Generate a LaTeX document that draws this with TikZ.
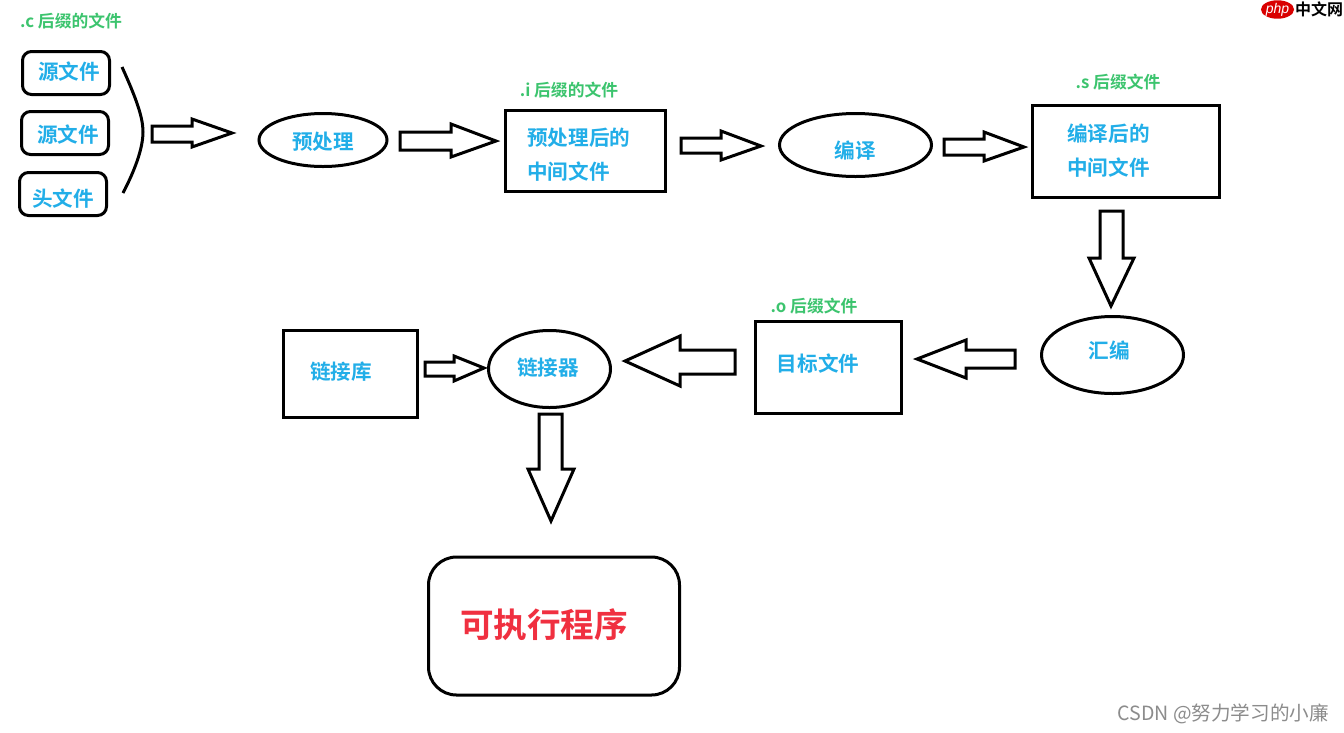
\documentclass[tikz,border=0pt]{standalone}
\usepackage{fontspec}
\setmainfont{Noto Sans CJK SC}
\newfontfamily\cjkbold{Noto Sans CJK SC Bold}
\newfontfamily\latinit{Liberation Sans Italic}
\usetikzlibrary{shapes.geometric}
\definecolor{blu}{HTML}{22AEE8}
\definecolor{grn}{HTML}{3CC46E}
\definecolor{rd}{HTML}{F03040}
\tikzset{
 shp/.style={draw=black,line width=3pt,inner sep=0pt},
 rbox/.style={shp,rectangle,rounded corners=9pt},
 sbox/.style={shp,rectangle},
 oval/.style={shp,ellipse},
 lab/.style={text=blu,font=\cjkbold\fontsize{20.6}{24}\selectfont,inner sep=0pt,anchor=center,yshift=-1pt},
 tag/.style={text=grn,font=\cjkbold\fontsize{16.8}{20}\selectfont,inner sep=0pt,anchor=center},
 blk/.style={draw=black,line width=3pt,fill=white,line join=miter},
}
\begin{document}
\begin{tikzpicture}[x=1pt,y=-1pt]
\useasboundingbox (0,0) rectangle (1344,732);
\fill[white] (0,0) rectangle (1344,732);
% nodes
\node[rbox,minimum width=87,minimum height=43] (s1) at (66,73) {};
\node[rbox,minimum width=87,minimum height=43] (s2) at (65,133) {};
\node[rbox,minimum width=87,minimum height=43] (h) at (63,194) {};
\node[lab] (s1l) at (69,71) {源文件};
\node[lab] (s2l) at (68,134) {源文件};
\node[lab] (hl) at (63,198) {头文件};
\node[tag] (t1) at (71,21) {.c 后缀的文件};
\draw[line width=3pt] (122,67) .. controls (137,100) and (143,118) .. (143,132) .. controls (143,148) and (135,170) .. (123,193);
\node[oval,minimum width=128,minimum height=53] (pre) at (323,140) {};
\node[lab] (prel) at (323,141) {预处理};
\node[sbox,minimum width=160,minimum height=81] (pf) at (585.5,150.5) {};
\node[lab,anchor=west] (pfa) at (527,137) {预处理后的};
\node[lab,anchor=west] (pfb) at (527,171) {中间文件};
\node[tag] (t2) at (569,90) {.i 后缀的文件};
\node[oval,minimum width=152,minimum height=63] (cc) at (855.5,145) {};
\node[lab] (ccl) at (855,150) {编译};
\node[sbox,minimum width=187,minimum height=92] (cf) at (1126,151.5) {};
\node[lab,anchor=west] (cfa) at (1067,133) {编译后的};
\node[lab,anchor=west] (cfb) at (1067,167) {中间文件};
\node[tag] (t3) at (1118,82) {.s 后缀文件};
\node[oval,minimum width=142,minimum height=77] (as) at (1112.5,355) {};
\node[lab] (asl) at (1109,349) {汇编};
\node[sbox,minimum width=146,minimum height=92] (ob) at (828,367) {};
\node[lab] (obl) at (818,363) {目标文件};
\node[tag] (t4) at (814,306) {.o 后缀文件};
\node[oval,minimum width=122,minimum height=77] (ln) at (549.5,369) {};
\node[lab] (lnl) at (548,367) {链接器};
\node[sbox,minimum width=134,minimum height=87] (lb) at (350,373.5) {};
\node[lab] (lbl) at (341,371) {链接库};
\node[rbox,rounded corners=28pt,minimum width=251,minimum height=138] (ex) at (554,626) {};
\node[text=rd,font=\cjkbold\fontsize{33.6}{38}\selectfont,inner sep=0pt] (exl) at (544,625) {可执行程序};
\node[text=black!45,font=\fontsize{19.6}{22}\selectfont,inner sep=0pt,anchor=east] (wm) at (1329,714) {CSDN @努力学习的小廉};
% logo
\node[ellipse,fill=red!85!black,minimum width=28,minimum height=18,inner sep=0pt,text=white,font=\latinit\fontsize{14}{15}\selectfont] (logo) at (1277.5,9.5) {php};
\node[text=black,font=\cjkbold\fontsize{16}{17}\selectfont,inner sep=0pt] (logot) at (1319,9.5) {中文网};
% block arrows
\draw[blk] (152,126) -- (192,126) -- (192,119) -- (232,133) -- (192,147) -- (192,142) -- (152,142) -- cycle;
\draw[blk] (400,132) -- (451,132) -- (451,124) -- (496,141) -- (451,157) -- (451,150) -- (400,150) -- cycle;
\draw[blk] (681,138) -- (721,138) -- (721,131) -- (761,146) -- (721,160) -- (721,153) -- (681,153) -- cycle;
\draw[blk] (944,139) -- (984,139) -- (984,132) -- (1024,147) -- (984,161) -- (984,155) -- (944,155) -- cycle;
\draw[blk] (1100,211) -- (1123,211) -- (1123,258) -- (1134,258) -- (1111,306) -- (1089,258) -- (1100,258) -- cycle;
\draw[blk] (1015,350) -- (966,350) -- (966,340) -- (917,359) -- (966,378) -- (966,368) -- (1015,368) -- cycle;
\draw[blk] (735,350) -- (680,350) -- (680,336) -- (625,361) -- (680,386) -- (680,374) -- (735,374) -- cycle;
\draw[blk] (425,362) -- (454,362) -- (454,356) -- (484,368) -- (454,381) -- (454,376) -- (425,376) -- cycle;
\draw[blk] (539,414) -- (562,414) -- (562,469) -- (574,469) -- (551,521) -- (528,469) -- (539,469) -- cycle;
\end{tikzpicture}
\end{document}
